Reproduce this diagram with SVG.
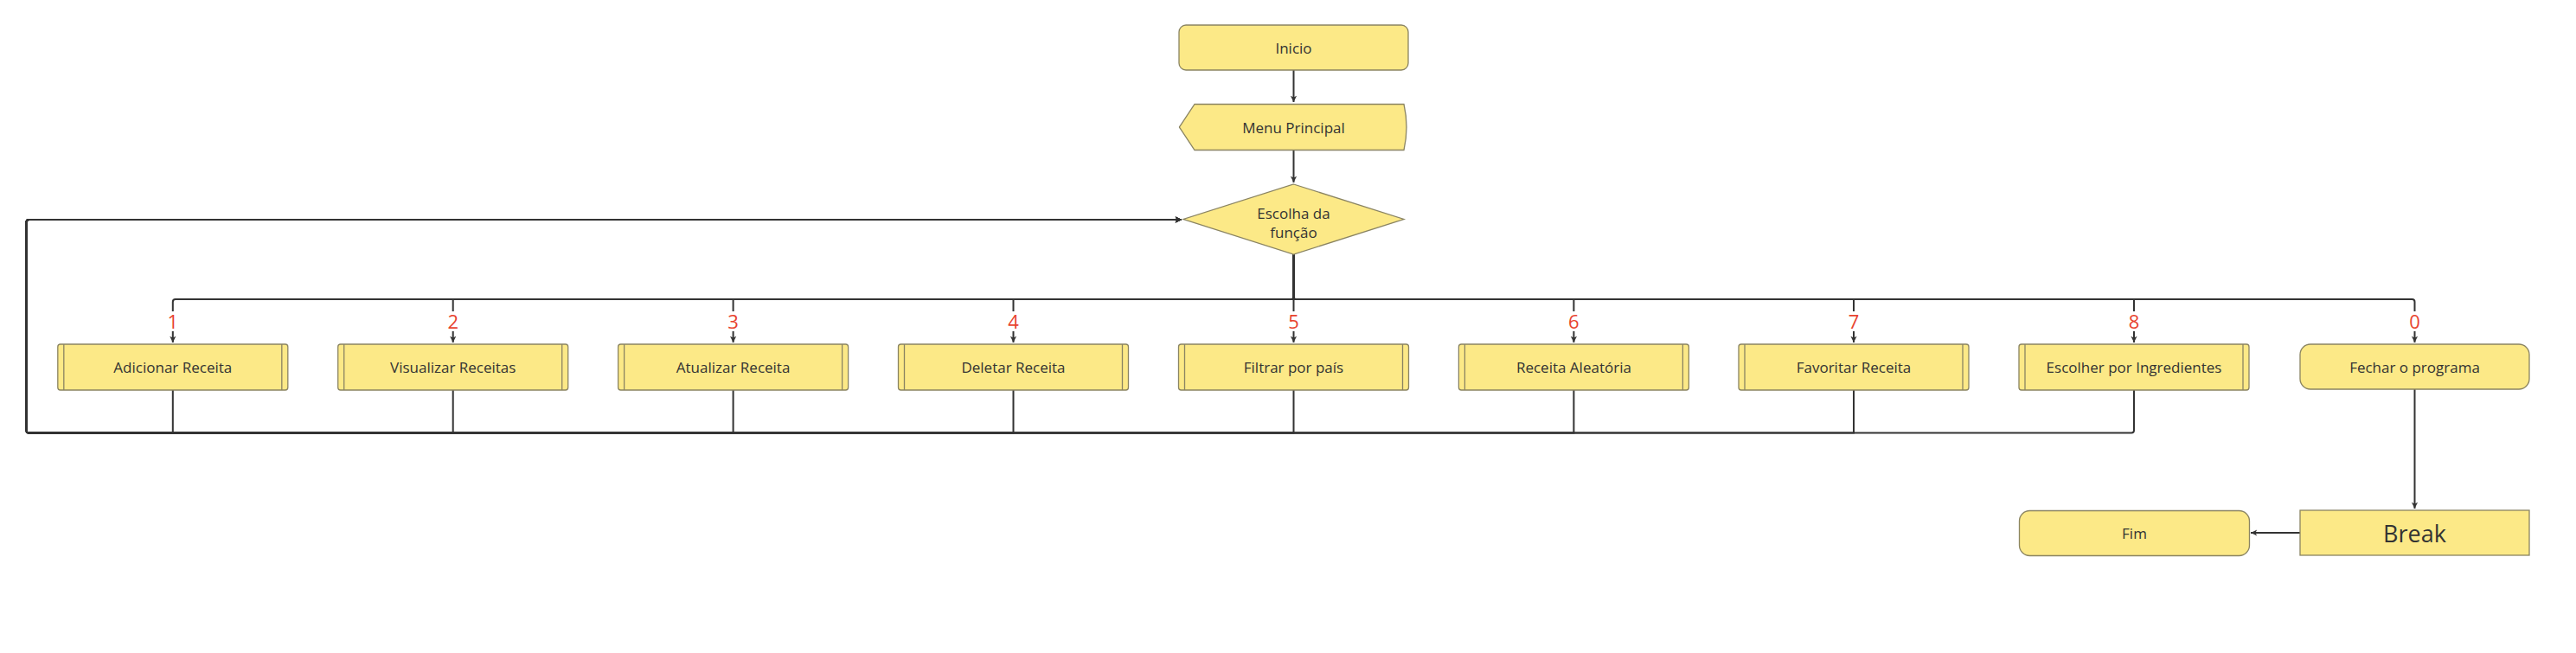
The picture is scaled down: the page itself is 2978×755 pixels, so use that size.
<svg xmlns="http://www.w3.org/2000/svg" width="2978" height="755" viewBox="0 0 2978 755">
<defs>
<style>
.node{fill:#fce987;stroke:#8a8462;stroke-width:1.3}
.inner{stroke:#8a8462;stroke-width:1.3;fill:none}
.t{font-family:"Open Sans","Liberation Sans",sans-serif;font-size:17px;fill:#333;text-anchor:middle}
.big{font-size:27px}
.num{font-family:"Open Sans","Liberation Sans",sans-serif;font-size:22px;fill:#e8432f;text-anchor:middle}
.c{fill:none;stroke:#333;stroke-width:2}
</style>
<marker id="ah" viewBox="0 0 10 10" refX="9" refY="5" markerWidth="9" markerHeight="9" markerUnits="userSpaceOnUse" orient="auto">
<path d="M1,1 L9,5 L1,9 L3,5 Z" fill="#333"/>
</marker>
</defs>
<rect width="2978" height="755" fill="#fff"/>

<g id="connectors">
<path class="c" d="M1495.5,81 V118" marker-end="url(#ah)"/>
<path class="c" d="M1495.5,174 V211" marker-end="url(#ah)"/>
<!-- branches -->
<path class="c" d="M1495.5,294 V343 Q1495.5,346 1492.5,346 H202.8 Q199.8,346 199.8,349 V360 M199.8,383 V396" marker-end="url(#ah)"/>
<path class="c" d="M1495.5,294 V346 H523.7 V360 M523.7,383 V396" marker-end="url(#ah)"/>
<path class="c" d="M1495.5,294 V346 H847.6 V360 M847.6,383 V396" marker-end="url(#ah)"/>
<path class="c" d="M1495.5,294 V346 H1171.5 V360 M1171.5,383 V396" marker-end="url(#ah)"/>
<path class="c" d="M1495.5,294 V360 M1495.5,383 V396" marker-end="url(#ah)"/>
<path class="c" d="M1495.5,294 V346 H1819.4 V360 M1819.4,383 V396" marker-end="url(#ah)"/>
<path class="c" d="M1495.5,294 V346 H2143 V360 M2143,383 V396" marker-end="url(#ah)"/>
<path class="c" d="M1495.5,294 V346 H2467 V360 M2467,383 V396" marker-end="url(#ah)"/>
<path class="c" d="M1495.5,294 V343 Q1495.5,346 1498.5,346 H2788.5 Q2791.5,346 2791.5,349 V360 M2791.5,383 V396" marker-end="url(#ah)"/>
<!-- returns -->
<path class="c" d="M199.8,451 V500.5 H33.5 Q30.5,500.5 30.5,497.5 V257 Q30.5,254 33.5,254 H1366" marker-end="url(#ah)"/>
<path class="c" d="M523.7,451 V500.5 H33.5 Q30.5,500.5 30.5,497.5 V257 Q30.5,254 33.5,254 H1366" marker-end="url(#ah)"/>
<path class="c" d="M847.6,451 V500.5 H33.5 Q30.5,500.5 30.5,497.5 V257 Q30.5,254 33.5,254 H1366" marker-end="url(#ah)"/>
<path class="c" d="M1171.5,451 V500.5 H33.5 Q30.5,500.5 30.5,497.5 V257 Q30.5,254 33.5,254 H1366" marker-end="url(#ah)"/>
<path class="c" d="M1495.5,451 V500.5 H33.5 Q30.5,500.5 30.5,497.5 V257 Q30.5,254 33.5,254 H1366" marker-end="url(#ah)"/>
<path class="c" d="M1819.4,451 V500.5 H33.5 Q30.5,500.5 30.5,497.5 V257 Q30.5,254 33.5,254 H1366" marker-end="url(#ah)"/>
<path class="c" d="M2143,451 V500.5 H33.5 Q30.5,500.5 30.5,497.5 V257 Q30.5,254 33.5,254 H1366" marker-end="url(#ah)"/>
<path class="c" d="M2467,451 V497.5 Q2467,500.5 2464,500.5 H33.5 Q30.5,500.5 30.5,497.5 V257 Q30.5,254 33.5,254 H1366" marker-end="url(#ah)"/>
<path class="c" d="M2791.5,450 V588" marker-end="url(#ah)"/>
<path class="c" d="M2659,616 H2602" marker-end="url(#ah)"/>
<text class="num" x="199.8" y="379.5">1</text>
<text class="num" x="523.7" y="379.5">2</text>
<text class="num" x="847.6" y="379.5">3</text>
<text class="num" x="1171.5" y="379.5">4</text>
<text class="num" x="1495.5" y="379.5">5</text>
<text class="num" x="1819.4" y="379.5">6</text>
<text class="num" x="2143" y="379.5">7</text>
<text class="num" x="2467" y="379.5">8</text>
<text class="num" x="2791.5" y="379.5">0</text>
</g>

<g id="inicio">
<rect class="node" x="1363" y="29" width="265" height="52" rx="8"/>
<text class="t" x="1495.5" y="62">Inicio</text>
</g>
<g id="menu">
<path class="node" d="M1381,120.5 H1623 Q1629,147 1623,173.5 H1381 L1364,148 Q1363,147 1364,146 Z"/>
<text class="t" x="1495.5" y="154">Menu Principal</text>
</g>
<g id="escolha">
<polygon class="node" points="1495.5,213 1623,253.5 1495.5,294 1368,253.5"/>
<text class="t" x="1495.5" y="252.5">Escolha da</text>
<text class="t" x="1495.5" y="275">função</text>
</g>

<g id="n1">
<rect class="node" x="66.8" y="398" width="266" height="53" rx="3"/>
<path class="inner" d="M73.8,398 V451 M325.8,398 V451"/>
<text class="t" x="199.8" y="431">Adicionar Receita</text>
</g>
<g id="n2">
<rect class="node" x="390.7" y="398" width="266" height="53" rx="3"/>
<path class="inner" d="M397.7,398 V451 M649.7,398 V451"/>
<text class="t" x="523.7" y="431">Visualizar Receitas</text>
</g>
<g id="n3">
<rect class="node" x="714.6" y="398" width="266" height="53" rx="3"/>
<path class="inner" d="M721.6,398 V451 M973.6,398 V451"/>
<text class="t" x="847.6" y="431">Atualizar Receita</text>
</g>
<g id="n4">
<rect class="node" x="1038.5" y="398" width="266" height="53" rx="3"/>
<path class="inner" d="M1045.5,398 V451 M1297.5,398 V451"/>
<text class="t" x="1171.5" y="431">Deletar Receita</text>
</g>
<g id="n5">
<rect class="node" x="1362.5" y="398" width="266" height="53" rx="3"/>
<path class="inner" d="M1369.5,398 V451 M1621.5,398 V451"/>
<text class="t" x="1495.5" y="431">Filtrar por país</text>
</g>
<g id="n6">
<rect class="node" x="1686.4" y="398" width="266" height="53" rx="3"/>
<path class="inner" d="M1693.4,398 V451 M1945.4,398 V451"/>
<text class="t" x="1819.4" y="431">Receita Aleatória</text>
</g>
<g id="n7">
<rect class="node" x="2010" y="398" width="266" height="53" rx="3"/>
<path class="inner" d="M2017,398 V451 M2269,398 V451"/>
<text class="t" x="2143" y="431">Favoritar Receita</text>
</g>
<g id="n8">
<rect class="node" x="2334" y="398" width="266" height="53" rx="3"/>
<path class="inner" d="M2341,398 V451 M2593,398 V451"/>
<text class="t" x="2467" y="431">Escolher por Ingredientes</text>
</g>
<g id="fechar">
<rect class="node" x="2659" y="398" width="265" height="52" rx="12"/>
<text class="t" x="2791.5" y="431">Fechar o programa</text>
</g>
<g id="break">
<rect class="node" x="2659" y="590" width="265" height="52"/>
<text class="t big" x="2791.5" y="626.5">Break</text>
</g>
<g id="fim">
<rect class="node" x="2334.5" y="590.5" width="266" height="52" rx="12"/>
<text class="t" x="2467.5" y="623">Fim</text>
</g>
</svg>
